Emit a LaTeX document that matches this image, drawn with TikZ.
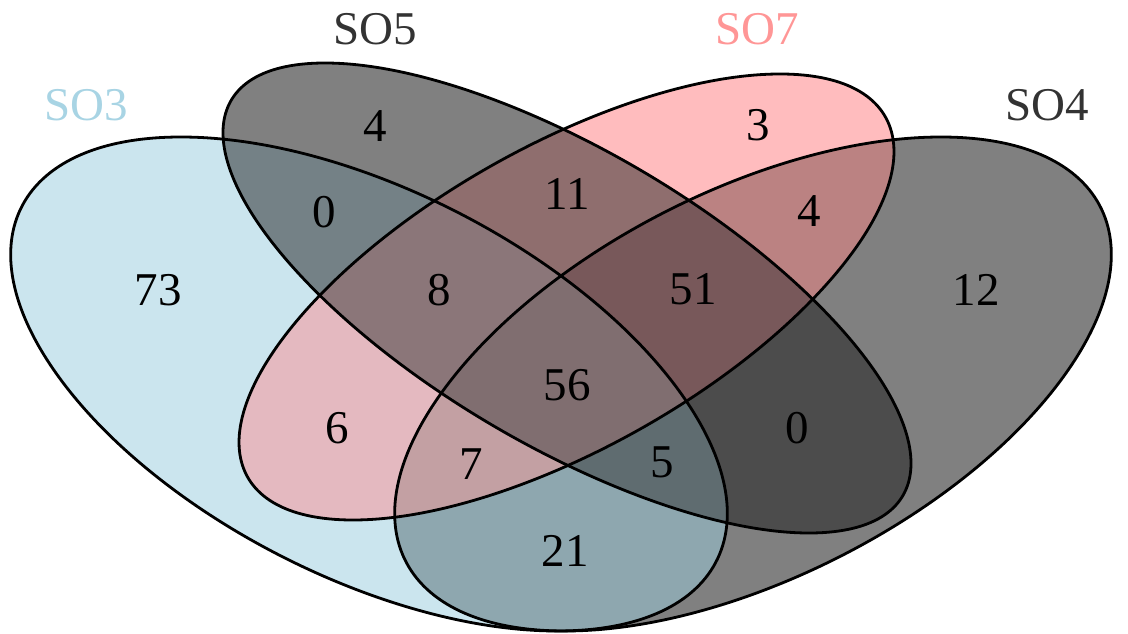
\documentclass[tikz,border=0pt]{standalone}
\usepackage{fontspec}
\setmainfont{Liberation Serif}
\newfontfamily\vennfont{Liberation Serif}
\usepackage{xcolor}
\usepackage{tikz}

% region colours
\definecolor{rThree}{RGB}{203,229,238}
\definecolor{rFive}{RGB}{128,128,128}
\definecolor{rSeven}{RGB}{255,188,190}
\definecolor{rFour}{RGB}{128,128,128}
\definecolor{rThreeFive}{RGB}{116,129,134}
\definecolor{rFiveSeven}{RGB}{143,110,110}
\definecolor{rSevenFour}{RGB}{187,130,130}
\definecolor{rThreeSeven}{RGB}{228,185,192}
\definecolor{rThreeFour}{RGB}{142,167,175}
\definecolor{rFiveFour}{RGB}{76,76,76}
\definecolor{rThreeFiveSeven}{RGB}{139,118,121}
\definecolor{rFiveSevenFour}{RGB}{120,88,90}
\definecolor{rThreeSevenFour}{RGB}{195,160,163}
\definecolor{rThreeFiveFour}{RGB}{95,108,112}
\definecolor{rAll}{RGB}{128,110,112}
% label colours
\definecolor{tThree}{RGB}{168,212,228}
\definecolor{tSeven}{RGB}{255,150,150}
\definecolor{tDark}{RGB}{51,51,51}

\tikzset{
  eThree/.style={cm={305,0,-188,247,(369,384)}},
  eFive/.style={cm={244.5,0,-242,235,(567,298)}},
  eSeven/.style={cm={248.3,0,213.5,223,(566.5,297)}},
  eFour/.style={cm={305,0,188,247,(753,384)}},
  num/.style={inner sep=0pt, font=\vennfont\fontsize{47}{56}\selectfont},
  setname/.style={inner sep=0pt, font=\vennfont\fontsize{47}{56}\selectfont},
}

\begin{document}
\begin{tikzpicture}[x=1pt, y=-1pt, line width=2.8pt]
      \useasboundingbox (0,0) rectangle (1128,634);
      % one set
      \fill[rThree, eThree] (0,0) circle (1pt);
      \fill[rFive, eFive] (0,0) circle (1pt);
      \fill[rSeven, eSeven] (0,0) circle (1pt);
      \fill[rFour, eFour] (0,0) circle (1pt);
      % two sets
      \begin{scope} \clip[eThree] (0,0) circle (1pt); \fill[rThreeFive, eFive] (0,0) circle (1pt); \end{scope}
      \begin{scope} \clip[eFive] (0,0) circle (1pt); \fill[rFiveSeven, eSeven] (0,0) circle (1pt); \end{scope}
      \begin{scope} \clip[eSeven] (0,0) circle (1pt); \fill[rSevenFour, eFour] (0,0) circle (1pt); \end{scope}
      \begin{scope} \clip[eThree] (0,0) circle (1pt); \fill[rThreeSeven, eSeven] (0,0) circle (1pt); \end{scope}
      \begin{scope} \clip[eThree] (0,0) circle (1pt); \fill[rThreeFour, eFour] (0,0) circle (1pt); \end{scope}
      \begin{scope} \clip[eFive] (0,0) circle (1pt); \fill[rFiveFour, eFour] (0,0) circle (1pt); \end{scope}
      % three sets
      \begin{scope} \clip[eThree] (0,0) circle (1pt); \clip[eFive] (0,0) circle (1pt); \fill[rThreeFiveSeven, eSeven] (0,0) circle (1pt); \end{scope}
      \begin{scope} \clip[eFive] (0,0) circle (1pt); \clip[eSeven] (0,0) circle (1pt); \fill[rFiveSevenFour, eFour] (0,0) circle (1pt); \end{scope}
      \begin{scope} \clip[eThree] (0,0) circle (1pt); \clip[eSeven] (0,0) circle (1pt); \fill[rThreeSevenFour, eFour] (0,0) circle (1pt); \end{scope}
      \begin{scope} \clip[eThree] (0,0) circle (1pt); \clip[eFive] (0,0) circle (1pt); \fill[rThreeFiveFour, eFour] (0,0) circle (1pt); \end{scope}
      % four sets
      \begin{scope} \clip[eThree] (0,0) circle (1pt); \clip[eFive] (0,0) circle (1pt); \clip[eSeven] (0,0) circle (1pt); \fill[rAll, eFour] (0,0) circle (1pt); \end{scope}
      % outlines
      \draw[eThree] (0,0) circle (1pt);
      \draw[eFive] (0,0) circle (1pt);
      \draw[eSeven] (0,0) circle (1pt);
      \draw[eFour] (0,0) circle (1pt);
      % set names
      \node[setname, text=tThree] (nameSOthree) at (86,105) {SO3};
      \node[setname, text=tDark] (nameSOfive) at (375,29) {SO5};
      \node[setname, text=tSeven] (nameSOseven) at (757,29) {SO7};
      \node[setname, text=tDark] (nameSOfour) at (1047,105) {SO4};
      % counts
      \node[num] (cFive) at (375,126) {4};
      \node[num] (cSeven) at (758,125) {3};
      \node[num] (cThreeFive) at (324,212) {0};
      \node[num] (cFiveSeven) at (567,194) {11};
      \node[num] (cSevenFour) at (809,211) {4};
      \node[num] (cThree) at (158,290) {73};
      \node[num] (cThreeFiveSeven) at (439,290) {8};
      \node[num] (cFiveSevenFour) at (693,289) {51};
      \node[num] (cFour) at (976,290) {12};
      \node[num] (cAll) at (567,385) {56};
      \node[num] (cThreeSeven) at (337,428) {6};
      \node[num] (cFiveFour) at (797,428) {0};
      \node[num] (cThreeSevenFour) at (471,464) {7};
      \node[num] (cThreeFiveFour) at (662,462) {5};
      \node[num] (cThreeFour) at (565,551) {21};
\end{tikzpicture}
\end{document}
